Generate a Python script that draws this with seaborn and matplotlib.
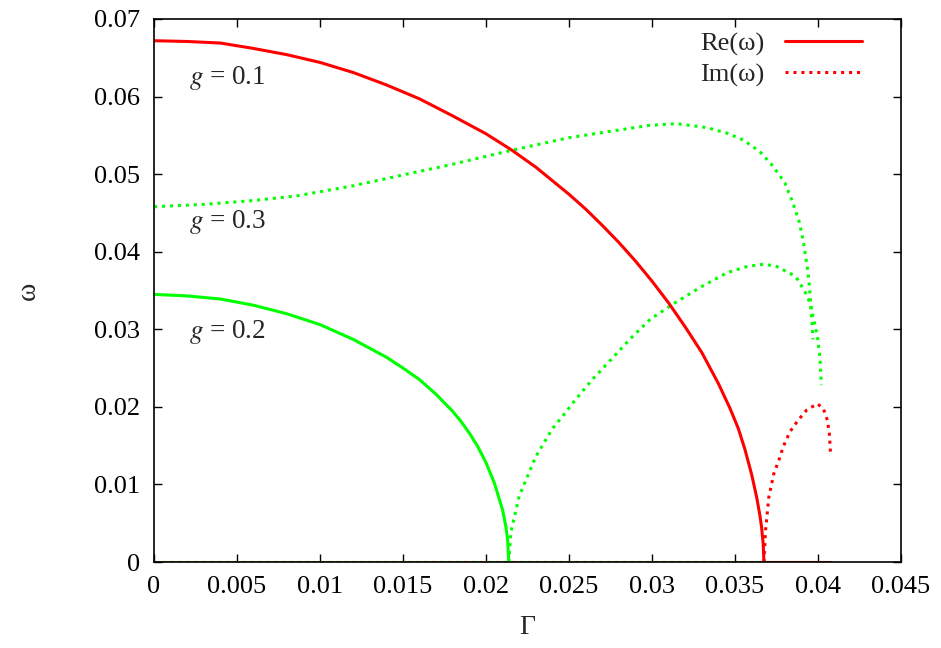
import numpy as np
import pandas as pd
import seaborn as sns
import matplotlib.pyplot as plt
from matplotlib.lines import Line2D
from matplotlib.ticker import FixedLocator, FixedFormatter

# g = 0.1, real part (red solid)
re1_x = [0.0, 0.002, 0.004, 0.006, 0.008, 0.010, 0.012, 0.014, 0.016, 0.018, 0.020,
         0.02155, 0.023, 0.025, 0.026, 0.027, 0.028, 0.029, 0.030, 0.031, 0.032, 0.033,
         0.034, 0.0347, 0.0352, 0.0356, 0.0360, 0.0363, 0.0365, 0.0366, 0.0367, 0.03674]
re1_y = [0.0672, 0.0671, 0.0669, 0.0662, 0.0654, 0.0644, 0.0631, 0.0615, 0.0597, 0.0575, 0.0552,
         0.0531, 0.0509, 0.0474, 0.0455, 0.0434, 0.0412, 0.0388, 0.0362, 0.0334, 0.0303, 0.0270,
         0.0230, 0.0198, 0.0172, 0.0145, 0.0113, 0.0084, 0.0060, 0.0045, 0.0023, 0.0]
# g = 0.1, imaginary part (red dotted)
im1_x = [0.03674, 0.03684, 0.03704, 0.03734, 0.03764, 0.03791, 0.03831,
         0.03881, 0.03932, 0.03996, 0.04032, 0.04056, 0.04068, 0.04076]
im1_y = [0.0, 0.0041, 0.0084, 0.0114, 0.0131, 0.0149, 0.0168,
         0.0183, 0.0196, 0.0204, 0.0198, 0.0183, 0.0166, 0.0138]

# g = 0.2, real part (green solid)
re2_x = [0.0, 0.002, 0.004, 0.006, 0.008, 0.010, 0.012, 0.014, 0.015, 0.016, 0.017, 0.018,
         0.0185, 0.019, 0.0195, 0.020, 0.0205, 0.021, 0.0212, 0.0213, 0.02137]
re2_y = [0.0345, 0.0343, 0.0339, 0.0331, 0.0320, 0.0306, 0.0287, 0.0264, 0.0250, 0.0235, 0.0216,
         0.0194, 0.0181, 0.0166, 0.0149, 0.0128, 0.0102, 0.0067, 0.0045, 0.0029, 0.0]
# g = 0.2, imaginary part (green dotted, lower arc)
im2_x = [0.02137, 0.0215, 0.022, 0.023, 0.024, 0.02458, 0.02538, 0.02639, 0.02749, 0.0287,
         0.0299, 0.0313, 0.0329, 0.03453, 0.03574, 0.03674, 0.0375, 0.0385, 0.03878,
         0.03922, 0.03952, 0.03975, 0.03997, 0.04012, 0.0402]
im2_y = [0.0, 0.0039, 0.0085, 0.0136, 0.0172, 0.0187, 0.0209, 0.0235, 0.0260, 0.0288,
         0.0313, 0.0333, 0.0354, 0.0373, 0.0381, 0.0384, 0.0381, 0.0370, 0.0364,
         0.0348, 0.0334, 0.0312, 0.0290, 0.0263, 0.0228]

# g = 0.3, imaginary part (green dotted, upper arc)
im3_x = [0.0, 0.003, 0.006, 0.0086, 0.012, 0.015, 0.01783, 0.0216, 0.025, 0.02988,
         0.0315, 0.0333, 0.0345, 0.0355, 0.0365, 0.0373, 0.0380, 0.03845, 0.03884,
         0.0391, 0.03928, 0.0394, 0.03948, 0.0396, 0.0397]
im3_y = [0.0458, 0.0461, 0.0466, 0.0472, 0.0485, 0.0499, 0.0512, 0.0531, 0.0547, 0.0563,
         0.0565, 0.0560, 0.0553, 0.0544, 0.0529, 0.0510, 0.0489, 0.0465, 0.0441,
         0.0415, 0.0390, 0.0373, 0.0356, 0.0320, 0.0287]

# zero branches along the axis
zero_green_re = [0.0, 0.0402]
zero_red_re = [0.03674, 0.04076]
zero_red_im = [0.0, 0.03674]

xticks = [0, 0.005, 0.01, 0.015, 0.02, 0.025, 0.03, 0.035, 0.04, 0.045]
xtick_labels = ["0", "0.005", "0.01", "0.015", "0.02", "0.025", "0.03", "0.035", "0.04", "0.045"]
yticks = [0, 0.01, 0.02, 0.03, 0.04, 0.05, 0.06, 0.07]
ytick_labels = ["0", "0.01", "0.02", "0.03", "0.04", "0.05", "0.06", "0.07"]

sns.set_style("ticks")
plt.rcParams['font.family'] = ['Liberation Serif', 'DejaVu Serif']
plt.rcParams['mathtext.fontset'] = 'stix'

RED = "#ff0000"
GREEN = "#00ff00"
DOT = (0, (1, 1.6))

fig = plt.figure(figsize=(9.41, 6.48), dpi=100)
ax = fig.add_axes([0.1637, 0.1327, 0.7938, 0.838])


def curve(xs, ys, color, style, lw):
    df = pd.DataFrame({"x": xs, "y": ys})
    sns.lineplot(data=df, x="x", y="y", ax=ax, color=color, sort=False,
                 estimator=None, linewidth=lw, linestyle=style)


curve(zero_green_re, [0, 0], GREEN, "-", 2.2)
curve(zero_red_im, [0, 0], RED, DOT, 2.2)
curve(zero_red_re, [0, 0], RED, "-", 2.2)
curve(re2_x, re2_y, GREEN, "-", 2.2)
curve(im2_x, im2_y, GREEN, DOT, 2.2)
curve(im3_x, im3_y, GREEN, DOT, 2.2)
curve(re1_x, re1_y, RED, "-", 2.2)
curve(im1_x, im1_y, RED, DOT, 2.2)

ax.set_xlim(0, 0.045)
ax.set_ylim(0, 0.07)
ax.xaxis.set_major_locator(FixedLocator(xticks))
ax.xaxis.set_major_formatter(FixedFormatter(xtick_labels))
ax.yaxis.set_major_locator(FixedLocator(yticks))
ax.yaxis.set_major_formatter(FixedFormatter(ytick_labels))
ax.tick_params(direction="in", length=6, width=1, top=True, right=True,
               labelsize=19, pad=10, colors="black")
for s in ax.spines.values():
    s.set_visible(True)
    s.set_linewidth(1.2)
    s.set_color("black")

ax.set_xlabel("Γ", fontsize=20, labelpad=12)
ax.set_ylabel("ω", fontsize=20, labelpad=38)

ax.text(0.0021, 0.0624, "$g$ = 0.1", fontsize=19.5, va="center", ha="left")
ax.text(0.0021, 0.0438, "$g$ = 0.3", fontsize=19.5, va="center", ha="left")
ax.text(0.0021, 0.0296, "$g$ = 0.2", fontsize=19.5, va="center", ha="left")

handles = [Line2D([], [], color=RED, lw=2.2, linestyle="-"),
           Line2D([], [], color=RED, lw=2.2, linestyle=DOT)]
ax.legend(handles, ["Re(ω)", "Im(ω)"], loc="upper right", bbox_to_anchor=(0.966, 1.0),
          frameon=False, markerfirst=False, handlelength=2.95, handletextpad=0.75,
          labelspacing=0.25, borderpad=0, fontsize=19)

fig.savefig("out.png", dpi=100)
